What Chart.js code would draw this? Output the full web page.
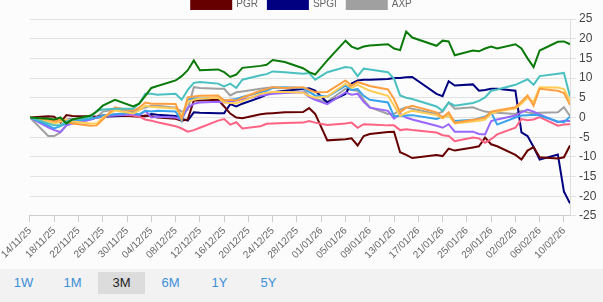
<!DOCTYPE html>
<html>
<head>
<meta charset="utf-8">
<script src="https://cdn.jsdelivr.net/npm/chart.js@4.4.1/dist/chart.umd.min.js"></script>
<style>
  html, body { margin: 0; padding: 0; background: #f2f2f2; font-family: "Liberation Sans", Arial, sans-serif; }
  #wrap { position: relative; width: 603px; height: 269px; overflow: hidden; background: #fcfcfc; }
  #box { position: absolute; left: 0; top: -11px; width: 603px; height: 280px; }
  #range { height: 33px; padding-top: 3px; }
  #range span { display: inline-block; width: 47px; margin-right: 2px; height: 22px; line-height: 22px; text-align: center; font-size: 13px; color: #3b8fd9; }
  #range span.on { background: #dcdcdc; color: #222; }
</style>
</head>
<body>
<div id="wrap"><div id="box"><canvas id="perf"></canvas></div></div>
<div id="range"><span>1W</span><span>1M</span><span class="on">3M</span><span>6M</span><span>1Y</span><span>5Y</span></div>
<script>
const start = "2025-11-14";
const dates = [
  "2025-11-14", "2025-11-17", "2025-11-18", "2025-11-19", "2025-11-20", "2025-11-21",
  "2025-11-24", "2025-11-25", "2025-11-26", "2025-11-28",
  "2025-12-01", "2025-12-02", "2025-12-03", "2025-12-04", "2025-12-05",
  "2025-12-08", "2025-12-09", "2025-12-10", "2025-12-11", "2025-12-12",
  "2025-12-15", "2025-12-16", "2025-12-17", "2025-12-18", "2025-12-19",
  "2025-12-22", "2025-12-23", "2025-12-24", "2025-12-26",
  "2025-12-29", "2025-12-30", "2025-12-31", "2026-01-02",
  "2026-01-05", "2026-01-06", "2026-01-07", "2026-01-08", "2026-01-09",
  "2026-01-12", "2026-01-13", "2026-01-14", "2026-01-15", "2026-01-16",
  "2026-01-20", "2026-01-21", "2026-01-22", "2026-01-23",
  "2026-01-26", "2026-01-27", "2026-01-28", "2026-01-29", "2026-01-30",
  "2026-02-02", "2026-02-03", "2026-02-04", "2026-02-05", "2026-02-06",
  "2026-02-09", "2026-02-10", "2026-02-11",
];
// x axis labels every 4 days
const tickDays = [0, 4, 8, 12, 16, 20, 24, 28, 32, 36, 40, 44, 48, 52, 56, 60, 64, 68, 72, 76, 80, 84, 88];

// % change since start, one value per trading day
const green = [0, -0.3, -0.5, 0, -1.5, -0.5, 0.5, 1.5, 3, 4.5,
  2.8, 3.5, 5.5, 7.5, 8, 9.4, 10.5, 12, 14.5, 12,
  12.2, 11.5, 10.3, 10.9, 12.6, 13.1, 13.4, 14.6, 14.1,
  12.5, 11.5, 10.9, 14.5,
  19.5, 18, 17.4, 18, 18.3, 18.6, 17.5, 17.1, 21.8, 20.3,
  18.2, 19.5, 19.3, 15.8, 17, 16.8, 17.5, 18, 17.5,
  18.6, 17.5, 15, 12.8, 17, 19.2, 19.3, 18.6];
const teal = [0, -1.5, -2, -2, -1, -0.5, 0, 1.7, 2, 2.2,
  2.2, 3.5, 6, 6, 5.8, 6, 4.5, 7, 8.8, 9,
  8.6, 7.9, 8.6, 7.5, 9.6, 10.7, 11, 11.7, 11.5,
  11.1, 11.3, 9.6, 11.5,
  12.8, 12.6, 10.5, 12.4, 12.2, 11.5, 9.8, 5.6, 5, 4.7,
  2.8, 1.7, 3.8, 3, 3.7, 4.2, 5.1, 6.8, 7.1,
  8.3, 9, 9.7, 8.3, 10.5, 11.1, 11.3, 5.3];
const orange = [0, -0.5, -1, -0.5, -1, -1.5, -2.1, -2, -0.5, 2.6,
  1.7, 2.5, 3.8, 3.5, 3.5, 3.4, -0.4, 5.1, 5.3, 5.5,
  5.6, 4.3, 4.5, 4.3, 5, 6.8, 7.2, 7.7, 7.5,
  7.7, 7, 6.4, 6.5,
  9.4, 8.1, 9, 8.5, 8, 7.1, 4.7, 1.3, 2.5, 3,
  1.3, 0, 1.3, -1.3, -0.6, -0.3, 0, 1.5, 1.8,
  2.6, 4, 5.6, 3, 7.3, 6.8, 6.2, 3.2];
const yellow = [0, -1, -1.5, -1, -0.5, -1, -1.5, -1.5, 0, 1.8,
  1, 1.8, 3, 2.7, 2.6, 2.3, 0.5, 4, 4.5, 4.8,
  5, 3.8, 3.7, 3.6, 4.2, 6, 6.3, 6.5, 6.5,
  6.3, 5.5, 5, 5.3,
  8.6, 7.5, 8.3, 7.5, 6.8, 5.5, 3, 0.4, 1.2, 1.7,
  0.6, -0.2, 0.5, -1.5, -1, -0.8, -0.5, 1, 1.5,
  2.3, 3.5, 5, 4, 7.7, 7.6, 7.2, 4.2];
const blue = [0, -2, -2.8, -2.2, -1.5, -1, -0.3, 0, 0.5, 0.8,
  1.2, 0.8, 1.7, 1.5, 1.7, 1.5, -0.9, 4.5, 4.9, 4.8,
  5, 4.4, 4.5, 4.7, 5.2, 6.4, 6.8, 7.5, 7.7,
  7.5, 6.5, 5.6, 5.3,
  8.1, 7, 7.2, 5.5, 4.5, 3.8, 0.3, 0.4, 0.5, 0.6,
  -0.4, 0.2, 0.4, -0.9, -0.6, -0.2, 0.2, 1.3, -1.8,
  0, 0.5, 0.6, 0.7, 0.5, -1, -1.2, 0.2];
const purple = [0, -2.5, -3.2, -3.7, -2, -1.5, -0.5, 0, 0.3, 0.5,
  0.8, 0.5, 1.7, 0, 0.2, 0, -0.5, 2.5, 3.5, 3.8,
  4, 3.8, 4, 4.3, 4.6, 5.5, 5.8, 6, 6.2,
  6.4, 5.2, 4.5, 3.4,
  6.4, 5.8, 6, 4, 2.5, 1.7, -0.3, 0.9, 0, -0.5,
  -2.1, -2.6, -1.7, -3.6, -3.6, -4.2, -4.3, -0.9, -0.5,
  0.5, 1.3, 2, 1.5, 0.8, -1.2, -0.8, -0.9];
const pink = [0, -0.5, -0.8, -1, -0.8, -0.5, -0.3, 0, 0.3, 0.8,
  0.5, 0.2, -0.5, -0.8, -1.2, -2.2, -2.8, -3.6, -3.2, -2.6,
  -0.8, -0.4, -1.8, -1.2, -2.8, -2.2, -1.6, -1.5, -1.4,
  -1.3, -0.9, -1.3, -1.9,
  -1.5, -1.3, -2.6, -1.7, -1.8, -2, -2, -3.2, -3, -3.2,
  -3.8, -4.5, -4.7, -6, -5.1, -5.3, -6.4, -5.5, -4.3,
  -2.6, -0.4, -0.7, -0.5, 0.1, -2.1, -1.8, -1.7];
const pgr = [0, 0.3, 0.2, -1.3, 0.6, 0.4, 0.3, 0.2, 0.5, 0.6,
  0.3, 0.2, 0.5, 0.3, 0, -0.3, -0.8, -0.5, 4.3, 4.3,
  4.5, 2.8, 1, 0, -0.2, 0.8, 1, 1.1, 1.3,
  1.4, 2.4, 0.9, -5.8,
  -5.5, -5.3, -7.1, -4.7, -4.2, -3.7, -3.6, -8.8, -9.5, -10.3,
  -9.5, -9.8, -7.9, -8.4, -7.6, -7.3, -5.1, -6.8, -7.3,
  -9.5, -10.7, -8.4, -7.5, -10.1, -10.4, -10.1, -7.1];
const spgi = [0, -0.3, -0.8, -1, -0.6, -0.5, -0.4, 0, 0.2, 0.3,
  0.5, 0.4, 0.3, 0.9, 0.7, 0.4, -0.3, -0.8, 1.3, 1.2,
  1.1, 1.1, 3.4, 2.8, 3.5, 5.1, 5.8, 6.4, 6.8,
  7.2, 7.4, 6.8, 3.8,
  6, 8.6, 9.4, 9.6, 9.6, 9.8, 10, 10, 10.2, 10.3,
  6, 5.4, 9.2, 8.1, 8.4, 6.8, 7, 7.3, 7.3,
  6.8, -3.8, -4.7, -7.5, -10.7, -9.4, -18.8, -21.8];
const axp = [0, -4.7, -4.7, -3.8, -2, -1.5, -0.5, 0, 1.5, 2,
  1.5, 2, 2.5, 3, 3, 2.5, 1.5, 2, 7.7, 7.5,
  7.3, 7.3, 5.6, 6.4, 6.6, 7.3, 7.5, 7.7, 7.5,
  7.3, 5.5, 4.7, 4,
  7.3, 7, 6.8, 4.5, 2.6, 0.9, 0.9, 2, 2.6, 2.2,
  0.9, 1.5, 3.8, 2.2, 2.6, 2, 1.5, 1.3, 1.2,
  0.9, 1.7, 1.3, 1.1, 1.2, 1.3, 2.6, 0.4];

const names = ["MCO", "CB", "TRV", "ALL", "MMC", "AON", "AJG", "PGR", "SPGI", "AXP"];
const series = [green, teal, orange, yellow, blue, purple, pink, pgr, spgi, axp];
const colors = ["#0a7a0a", "rgb(75,192,192)", "rgb(255,159,64)", "rgb(255,205,86)", "rgb(54,162,235)",
  "rgb(153,102,255)", "rgb(255,99,132)", "#660000", "#000080", "#a0a0a0"];
const shown = ["PGR", "SPGI", "AXP"];

const DAY = 86400000;
const t0 = Date.parse(start);
const dayNo = (s) => Math.round((Date.parse(s) - t0) / DAY);
const fmt = (n) => {
  const d = new Date(t0 + n * DAY);
  const p = (v) => String(v).padStart(2, "0");
  return p(d.getUTCDate()) + "/" + p(d.getUTCMonth() + 1) + "/" + String(d.getUTCFullYear()).slice(2);
};

const ctx = document.getElementById("perf").getContext("2d");
const chart = new Chart(ctx, {
  type: "line",
  data: {
    datasets: series.map((vals, i) => ({
      label: names[i],
      data: vals.map((v, j) => ({ x: dayNo(dates[j]), y: v })),
      borderColor: colors[i],
      backgroundColor: colors[i],
      borderWidth: 2,
      pointRadius: 0,
      tension: 0,
    })),
  },
  options: {
    animation: false,
    responsive: true,
    maintainAspectRatio: false,
    layout: { padding: { bottom: 5 } },
    plugins: {
      legend: {
        labels: {
          font: { size: 10 },
          color: "#666",
          boxWidth: 40,
          boxHeight: 10,
          filter: (item) => shown.includes(item.text),
        },
      },
      tooltip: { enabled: false },
    },
    scales: {
      x: {
        type: "linear",
        min: 0,
        max: dayNo(dates[dates.length - 1]),
        afterBuildTicks: (s) => { s.ticks = tickDays.map((v) => ({ value: v })); },
        ticks: {
          autoSkip: false,
          minRotation: 45,
          maxRotation: 45,
          font: { size: 10 },
          color: "#666",
          callback: (v) => fmt(v),
        },
        grid: { drawOnChartArea: false, drawTicks: true, tickLength: 6, color: "#ccc" },
        border: { color: "#ccc" },
      },
      y: {
        position: "right",
        min: -25,
        max: 25,
        afterFit: (s) => { s.width = 33; },
        ticks: { stepSize: 5, font: { size: 12 }, color: "#444" },
        grid: { color: "#e2e2e2", tickLength: 6 },
        border: { color: "#ddd" },
      },
    },
  },
});
</script>
</body>
</html>
